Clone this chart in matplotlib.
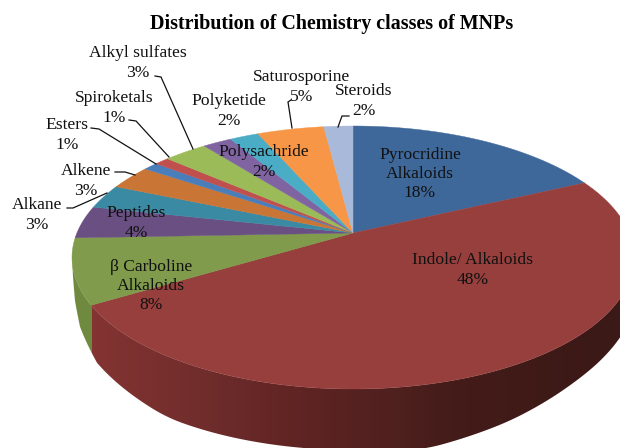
"""3D style pie chart of chemistry classes of MNPs."""
import numpy as np
import matplotlib
matplotlib.use("Agg")
import matplotlib.pyplot as plt
from matplotlib.patches import Polygon

# Data
names = ["Pyrocridine\nAlkaloids", "Indole/ Alkaloids", "β Carboline\nAlkaloids", "Peptides",
         "Alkane", "Alkene", "Esters", "Spiroketals", "Alkyl sulfates",
         "Polysachride", "Polyketide", "Saturosporine", "Steroids"]
values = [18, 48.4, 8, 4, 3, 3, 1, 1, 3, 2, 2, 4.6, 2]
colors = ["#3F689A", "#963F3D", "#7F9B4B", "#6A4F82", "#3A8AA3", "#C87535", "#4A7EBB",
          "#C0504D", "#9BBB59", "#8064A2", "#4BACC6", "#F79646", "#A9B9D9"]

# Label centres in pixels, same order as names
label_x = [420, 473, 151, 136, 37, 86, 67, 114, 138, 264, 229, 302, 364]
label_y = [174, 270, 286, 223, 215, 181, 135, 108, 63, 162, 111, 87, 101]

# Leader lines in pixels
leaders = [
    ([155, 161, 193], [76, 77, 149]),
    ([129, 136, 169], [120, 121, 157]),
    ([91, 99, 156], [128, 129, 164]),
    ([115, 125, 135], [172, 172, 175]),
    ([67, 73, 107], [208, 208, 193]),
    ([291, 288, 292], [100, 102, 128]),
    ([349, 342, 338], [116, 116, 127]),
]

# Pie geometry in pixels: top face ellipse, perspective apex, wall depth along x
cx, cy, rx, ry = 353, 257.5, 281, 131.5
apex_y = 233
depth_x = [72, 75, 80, 97, 167, 233, 310, 427, 510, 577, 620]
depth_h = [0, 24, 38, 51, 61, 61, 61, 64, 54, 43, 38.5]

a = (cy - apex_y) / ry
b = (1 - np.sqrt(1 - a ** 2)) / a


def rim_angle(frac):
    """Cumulative fraction to ellipse parameter, with the centre moved by perspective."""
    z = np.exp(1j * (np.pi / 2 - 2 * np.pi * np.asarray(frac)))
    return np.angle((z + 1j * b) / (1 - 1j * b * z))


def front_y(x):
    return cy + ry * np.sqrt(np.clip(1 - ((x - cx) / rx) ** 2, 0, 1))


plt.rcParams["font.family"] = ["Liberation Serif", "DejaVu Serif"]
fig = plt.figure(figsize=(6.2, 4.48), dpi=100)
ax = fig.add_axes([0, 0, 1, 1])

fracs = np.cumsum([0] + values) / sum(values)

# Side wall, darker towards the right. Green part is left of the indole slice edge
t_end = rim_angle(fracs[2])
split_x = cx + rx * np.cos(t_end)
red_x = [90, 200, 300, 400, 450, 620]
red_r = [0x84, 0x70, 0x5F, 0x4E, 0x44, 0x3A]
red_g = [0x34, 0x2D, 0x24, 0x20, 0x1C, 0x19]
red_b = [0x32, 0x2C, 0x23, 0x1E, 0x19, 0x16]
grid = np.arange(72, 621)
wall = np.stack([np.interp(grid, red_x, red_r), np.interp(grid, red_x, red_g),
                 np.interp(grid, red_x, red_b)], axis=1) / 255
wall[grid < split_x] = matplotlib.colors.to_rgb("#6F8A3F")
img = ax.imshow(wall[np.newaxis, :, :], extent=(72, 620, 460, 200), aspect="auto",
                interpolation="nearest")

# Smooth the depth a little so the lower rim has no corners
depth = np.interp(grid, depth_x, depth_h)
kernel = np.ones(31) / 31
smooth = np.convolve(np.pad(depth, 15, mode="edge"), kernel, mode="valid")
smooth[grid < 110] = depth[grid < 110]
upper = np.column_stack([grid, front_y(grid)])
lower = np.column_stack([grid, front_y(grid) + smooth])[::-1]
clip = Polygon(np.vstack([upper, lower]), closed=True, transform=ax.transData,
               facecolor="none", edgecolor="none")
ax.add_patch(clip)
img.set_clip_path(clip)

# Top face
for i, col in enumerate(colors):
    t0 = rim_angle(fracs[i])
    t1 = rim_angle(fracs[i + 1])
    if t1 > t0:
        t1 -= 2 * np.pi
    t = np.linspace(t0, t1, 120)
    px = np.concatenate([[cx], cx + rx * np.cos(t)])
    py = np.concatenate([[apex_y], cy - ry * np.sin(t)])
    ax.fill(px, py, facecolor=col, edgecolor=col, linewidth=0.3)

for lx, ly in leaders:
    ax.plot(lx, ly, color="#111111", linewidth=0.9, solid_joinstyle="miter")

for name, val, x, y in zip(names, values, label_x, label_y):
    ax.text(x, y, f"{name}\n{val:.0f}%", ha="center", va="center", fontsize=12.6,
            color="#111111", linespacing=1.28)

ax.text(332, 24, "Distribution of Chemistry classes of MNPs", ha="center", va="center",
        fontsize=14.4, fontweight="bold", color="black")

ax.set_xlim(0, 620)
ax.set_ylim(448, 0)
ax.axis("off")

fig.savefig("out.png", dpi=100)
